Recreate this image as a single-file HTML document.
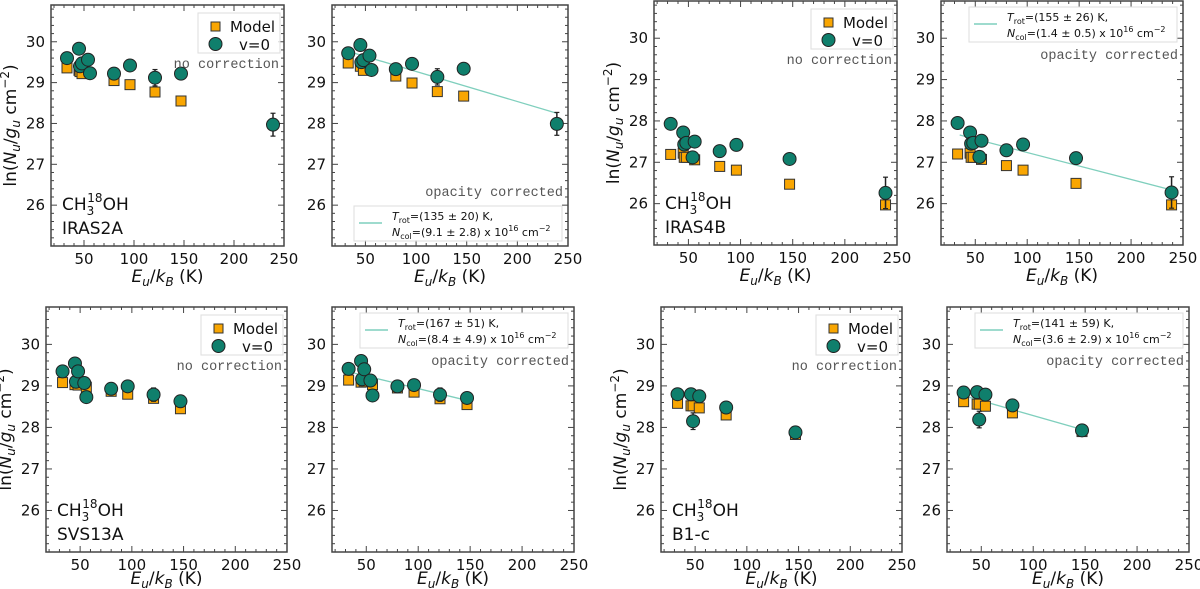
<!DOCTYPE html>
<html><head><meta charset="utf-8"><style>
html,body{margin:0;padding:0;background:#fff;}
svg{display:block;font-family:"DejaVu Sans","Liberation Sans",sans-serif;}
</style></head><body>
<svg id="fig" width="1200" height="589" viewBox="0 0 1200 589" xmlns="http://www.w3.org/2000/svg"></svg>
<script>
// ---- data (x = Eu/kB in K, y = ln(Nu/gu)) ----
const p1ObsX=[33,45,46,48,54,56,80,96,121,147,239];
const p1ObsY=[29.6,29.83,29.4,29.47,29.56,29.23,29.22,29.42,29.12,29.22,27.97];
const p1ObsE=[0.06,0.06,0.06,0.06,0.06,0.06,0.06,0.08,0.2,0.06,0.28];
const p1ModX=[33,45,46,48,80,96,121,147];
const p1ModY=[29.36,29.3,29.27,29.22,29.05,28.95,28.77,28.55];

const p2ObsX=[33,45,46,48,54,56,80,96,121,147,239];
const p2ObsY=[29.72,29.92,29.5,29.55,29.66,29.31,29.33,29.46,29.14,29.34,27.99];
const p2ObsE=[0.06,0.06,0.06,0.06,0.06,0.06,0.06,0.08,0.2,0.06,0.28];
const p2ModX=[33,45,48,80,96,121,147];
const p2ModY=[29.48,29.4,29.3,29.16,28.99,28.78,28.67];
const p2FitX=[35,239];
const p2FitY=[29.75,28.25];

const p3ObsX=[33,45,46,48,54,56,80,96,147,239];
const p3ObsY=[27.93,27.72,27.43,27.47,27.12,27.5,27.27,27.42,27.08,26.26];
const p3ObsE=[0.06,0.1,0.06,0.06,0.1,0.12,0.06,0.14,0.06,0.38];
const p3ModX=[33,45,46,48,56,80,96,147,239];
const p3ModY=[27.19,27.22,27.12,27.12,27.06,26.9,26.81,26.47,25.97];

const p4ObsX=[33,45,46,48,54,56,80,96,147,239];
const p4ObsY=[27.95,27.72,27.45,27.47,27.13,27.52,27.29,27.43,27.1,26.27];
const p4ObsE=[0.06,0.1,0.06,0.06,0.1,0.12,0.06,0.14,0.06,0.38];
const p4ModX=[33,45,46,48,56,80,96,147,239];
const p4ModY=[27.2,27.22,27.12,27.12,27.07,26.92,26.81,26.49,25.97];
const p4FitX=[35,239];
const p4FitY=[27.66,26.33];

const p5ObsX=[33,45,46,48,54,56,80,96,121,147];
const p5ObsY=[29.35,29.54,29.1,29.35,29.07,28.73,28.93,28.99,28.79,28.63];
const p5ObsE=[0.06,0.06,0.06,0.06,0.06,0.06,0.06,0.06,0.16,0.06];
const p5ModX=[33,45,48,56,80,96,121,147];
const p5ModY=[29.08,29.03,29.02,28.97,28.87,28.8,28.7,28.45];

const p6ObsX=[33,45,46,48,54,56,80,96,121,147];
const p6ObsY=[29.41,29.6,29.16,29.4,29.13,28.77,28.99,29.02,28.79,28.71];
const p6ObsE=[0.06,0.06,0.06,0.06,0.06,0.06,0.06,0.06,0.16,0.06];
const p6ModX=[33,45,48,56,80,96,121,147];
const p6ModY=[29.14,29.09,29.1,29.03,28.95,28.85,28.69,28.55];
const p6FitX=[35,147];
const p6FitY=[29.33,28.65];

const p7ObsX=[33,46,48,54,80,147];
const p7ObsY=[28.8,28.8,28.15,28.75,28.48,27.88];
const p7ObsE=[0.08,0.08,0.2,0.1,0.08,0.08];
const p7ModX=[33,46,48,54,80,147];
const p7ModY=[28.58,28.52,28.52,28.47,28.3,27.83];

const p8ObsX=[33,46,48,54,80,147];
const p8ObsY=[28.84,28.85,28.19,28.79,28.53,27.93];
const p8ObsE=[0.08,0.08,0.2,0.1,0.08,0.08];
const p8ModX=[33,46,48,54,80,147];
const p8ModY=[28.62,28.56,28.56,28.51,28.35,27.9];
const p8FitX=[35,147];
const p8FitY=[28.75,27.95];

const xTicks=[50,100,150,200,250];
const yTicks=[26,27,28,29,30];
const fitLabels=[["135 ± 20","9.1 ± 2.8"],["155 ± 26","1.4 ± 0.5"],["167 ± 51","8.4 ± 4.9"],["141 ± 59","3.6 ± 2.9"]];
const sources=["IRAS2A","IRAS4B","SVS13A","B1-c"];

const XMIN=17,XMAX=250,YMIN=25,YMAX=30.9;
const NS="http://www.w3.org/2000/svg";
const svg=document.getElementById('fig');
function mk(tag,attrs,parent,text){const e=document.createElementNS(NS,tag);for(const k in attrs)e.setAttribute(k,attrs[k]);if(text!==undefined)e.textContent=text;(parent||svg).appendChild(e);return e;}

const panels=[
 {box:[51,5,284,246],obsX:p1ObsX,obsY:p1ObsY,obsE:p1ObsE,modX:p1ModX,modY:p1ModY,src:0,ylab:true,fit:null,xl:32},
 {box:[332,5,568,246],obsX:p2ObsX,obsY:p2ObsY,obsE:p2ObsE,modX:p2ModX,modY:p2ModY,fitX:p2FitX,fitY:p2FitY,fit:0,fitBottom:true,xl:32},
 {box:[654,1,897,245],obsX:p3ObsX,obsY:p3ObsY,obsE:p3ObsE,modX:p3ModX,modY:p3ModY,src:1,ylab:true,fit:null,xl:32},
 {box:[941,1,1183,245],obsX:p4ObsX,obsY:p4ObsY,obsE:p4ObsE,modX:p4ModX,modY:p4ModY,fitX:p4FitX,fitY:p4FitY,fit:1,xl:32},
 {box:[46,307,287,552],obsX:p5ObsX,obsY:p5ObsY,obsE:p5ObsE,modX:p5ModX,modY:p5ModY,src:2,ylab:true,fit:null,xl:28},
 {box:[332,307,574,552],obsX:p6ObsX,obsY:p6ObsY,obsE:p6ObsE,modX:p6ModX,modY:p6ModY,fitX:p6FitX,fitY:p6FitY,fit:2,xl:28},
 {box:[661,307,902,552],obsX:p7ObsX,obsY:p7ObsY,obsE:p7ObsE,modX:p7ModX,modY:p7ModY,src:3,ylab:true,fit:null,xl:28},
 {box:[947,307,1189,552],obsX:p8ObsX,obsY:p8ObsY,obsE:p8ObsE,modX:p8ModX,modY:p8ModY,fitX:p8FitX,fitY:p8FitY,fit:3,xl:28},
];
const TEAL="#0f7f6c",ORANGE="#f9a602",FIT="#7fcfbd";

panels.forEach((p,i)=>{
 const [L,T,R,B]=p.box;
 const sx=v=>L+(v-XMIN)/(XMAX-XMIN)*(R-L);
 const sy=v=>B-(v-YMIN)/(YMAX-YMIN)*(B-T);
 const g=mk('g',{});
 
 
 for(let v=20;v<=250;v+=10){const x=sx(v);const maj=v%50===0;const len=maj?6:3;
  mk('line',{x1:x,y1:B,x2:x,y2:B-len,stroke:'#444','stroke-width':1},g);
  mk('line',{x1:x,y1:T,x2:x,y2:T+len,stroke:'#444','stroke-width':1},g);}
 for(let k=125;k<=154;k++){const v=k/5;const y=sy(v);const maj=(k%5===0);const len=maj?6:3;
  mk('line',{x1:L,y1:y,x2:L+len,y2:y,stroke:'#444','stroke-width':1},g);
  mk('line',{x1:R,y1:y,x2:R-len,y2:y,stroke:'#444','stroke-width':1},g);}
 const frame=mk('rect',{x:L,y:T,width:R-L,height:B-T,fill:'none',stroke:'#444','stroke-width':1.5},g);
 
 
 xTicks.forEach(v=>{const t=mk('text',{x:sx(v),y:B+18,'font-size':15,'text-anchor':'middle',fill:'#111'},g,String(v));
  
  });
 yTicks.forEach(v=>{const t=mk('text',{x:L-6,y:sy(v)+5,'font-size':15,'text-anchor':'end',fill:'#111'},g,String(v));
  
  });
 const xl=mk('text',{x:(L+R)/2,y:B+p.xl+4,'font-size':17,'text-anchor':'middle',fill:'#111'},g);
 xl.innerHTML='<tspan font-style="italic">E</tspan><tspan font-style="italic" font-size="12" dy="4">u</tspan><tspan dy="-4">/</tspan><tspan font-style="italic">k</tspan><tspan font-style="italic" font-size="12" dy="4">B</tspan><tspan dy="-4"> (K)</tspan>';
 
 
 if(p.ylab){
  const cx=L-35,cy=(T+B)/2;
  const yl=mk('text',{x:cx,y:cy,'font-size':17,'text-anchor':'middle',fill:'#111',transform:`rotate(-90 ${cx} ${cy})`},g);
  yl.innerHTML='ln(<tspan font-style="italic">N</tspan><tspan font-style="italic" font-size="12" dy="4">u</tspan><tspan dy="-4">/</tspan><tspan font-style="italic">g</tspan><tspan font-style="italic" font-size="12" dy="4">u</tspan><tspan dy="-4"> cm</tspan><tspan font-size="12" dy="-7">−2</tspan><tspan dy="7">)</tspan>';
  
  
 }
 if(p.fit!==null){
  const fl=mk('line',{x1:sx(p.fitX[0]),y1:sy(p.fitY[0]),x2:sx(p.fitX[1]),y2:sy(p.fitY[1]),stroke:FIT,'stroke-width':1.3},g);
  
  
 }
 p.modX.forEach((x,j)=>{const s=mk('rect',{x:sx(x)-5,y:sy(p.modY[j])-5,width:10,height:10,fill:ORANGE,stroke:'#333','stroke-width':1},g);
  
  });
 p.obsX.forEach((x,j)=>{const cx=sx(x),cy=sy(p.obsY[j]),e=p.obsE[j];
  const eb=mk('line',{x1:cx,y1:sy(p.obsY[j]+e),x2:cx,y2:sy(p.obsY[j]-e),stroke:'#222','stroke-width':1.5},g);
  
  
  mk('line',{x1:cx-2.5,y1:sy(p.obsY[j]+e),x2:cx+2.5,y2:sy(p.obsY[j]+e),stroke:'#222','stroke-width':1.2},g);
  mk('line',{x1:cx-2.5,y1:sy(p.obsY[j]-e),x2:cx+2.5,y2:sy(p.obsY[j]-e),stroke:'#222','stroke-width':1.2},g);
  const c=mk('circle',{cx:cx,cy:cy,r:6.5,fill:TEAL,stroke:'#222','stroke-width':1},g);
  
  });
 if(p.fit===null){
  const lg=mk('g',{},g);
  
  
  mk('rect',{x:R-86,y:T+8,width:82,height:40,fill:'#fff','fill-opacity':0.8,stroke:'#ddd'},lg);
  mk('rect',{x:R-73,y:T+17,width:9,height:9,fill:ORANGE,stroke:'#333'},lg);
  mk('text',{x:R-9,y:T+27,'font-size':15,'text-anchor':'end',fill:'#111'},lg,'Model');
  mk('line',{x1:R-68.5,y1:T+32,x2:R-68.5,y2:T+46,stroke:'#222','stroke-width':1.5},lg);
  mk('circle',{cx:R-68.5,cy:T+39,r:6.5,fill:TEAL,stroke:'#222'},lg);
  mk('text',{x:R-45,y:T+45,'font-size':15,fill:'#111'},lg,'v=0');
  const nc=mk('text',{x:R-5,y:T+63,'font-size':13.5,'text-anchor':'end',fill:'#555','font-family':'Liberation Mono, monospace'},g,'no correction');
  
  
  const s1=mk('text',{x:L+11,y:B-36,'font-size':17,fill:'#111'},g);
  s1.innerHTML='CH<tspan font-size="12" dy="5">3</tspan><tspan font-size="12" dx="-7" dy="-13">18</tspan><tspan dy="8">OH</tspan>';
  
  
  const s2=mk('text',{x:L+11,y:B-12,'font-size':17,fill:'#111'},g,sources[p.src]);
  
  
 } else {
  const lt=p.fitBottom?B-40:T+6;
  const lg=mk('g',{},g);
  
  
  mk('rect',{x:R-214,y:lt,width:208,height:35,fill:'#fff','fill-opacity':0.8,stroke:'#ddd'},lg);
  mk('line',{x1:R-209,y1:lt+17,x2:R-186,y2:lt+17,stroke:FIT,'stroke-width':1.5},lg);
  const f=fitLabels[p.fit];
  const t1=mk('text',{x:R-176,y:lt+14,'font-size':11,fill:'#111'},lg);
  t1.innerHTML='<tspan font-style="italic">T</tspan><tspan font-size="8" dy="3">rot</tspan><tspan dy="-3">=('+f[0]+') K,</tspan>';
  const t2=mk('text',{x:R-176,y:lt+30,'font-size':11,fill:'#111'},lg);
  t2.innerHTML='<tspan font-style="italic">N</tspan><tspan font-size="8" dy="3">col</tspan><tspan dy="-3">=('+f[1]+') x 10</tspan><tspan font-size="8" dy="-5">16</tspan><tspan dy="5"> cm</tspan><tspan font-size="8" dy="-5">−2</tspan>';
  const oy=p.fitBottom?B-50:T+58;
  const oc=mk('text',{x:R-5,y:oy,'font-size':13.5,'text-anchor':'end',fill:'#555','font-family':'Liberation Mono, monospace'},g,'opacity corrected');
  
  
 }
});
</script>
</body></html>
